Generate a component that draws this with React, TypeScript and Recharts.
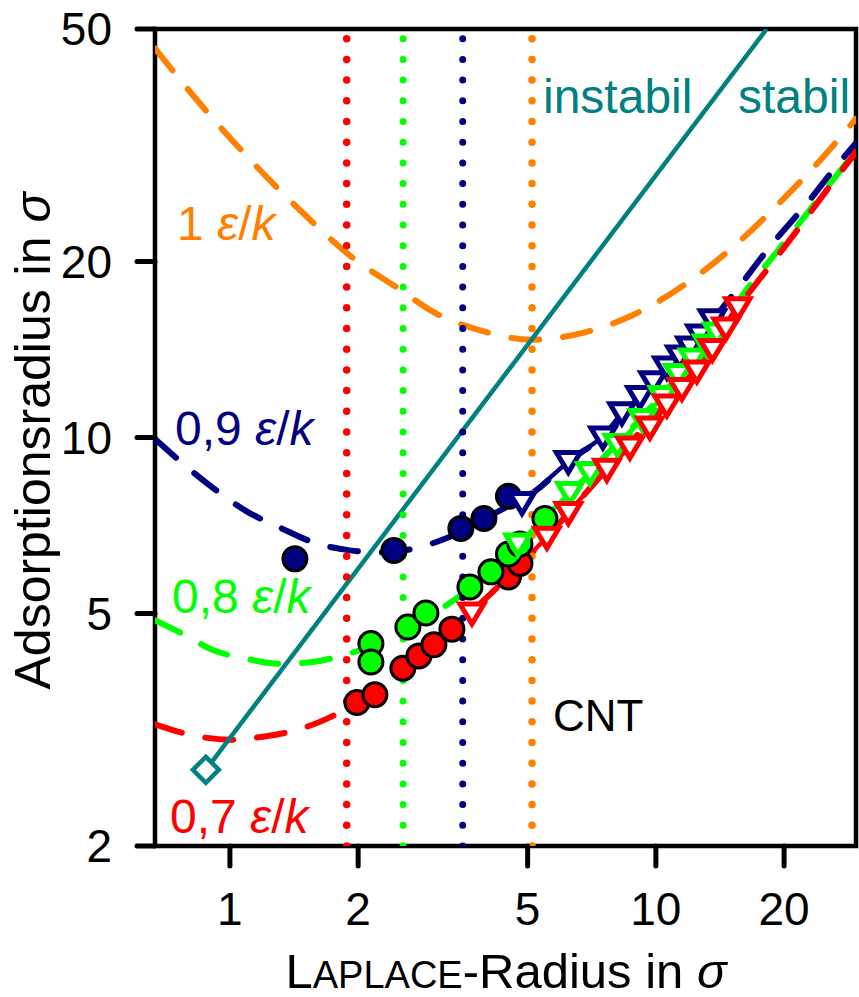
import React from 'react';
import { ComposedChart, Line, Scatter, XAxis, YAxis, ReferenceArea, Customized } from 'recharts';

const FONT = '"Liberation Sans", Arial, sans-serif';

const xTicks = [1, 2, 5, 10, 20];
const yTicks = [2, 5, 10, 20, 50];
const xDomain: [number, number] = [0.667, 29.5];
const yDomain: [number, number] = [2, 50];

const ORANGE = '#ff8000';
const NAVY = '#000080';
const GREEN = '#00ff00';
const RED = '#ff0000';
const TEAL = '#008080';

// dashed model curves (x, y)
const orangeCurve: [number, number][] = [
  [0.667, 46.3], [0.814, 38.7], [1.114, 29.9], [1.46, 24.5], [1.91, 20.5], [2.51, 17.9],
  [3.0, 16.4], [3.93, 15.2], [5.12, 14.7], [6.74, 15.1], [8.83, 16.2], [11.6, 18.2],
  [15.2, 21.2], [19.5, 25.2], [24.7, 30.2], [29.5, 35.1],
];
const navyCurve: [number, number][] = [
  [0.667, 9.94], [0.912, 8.2], [1.1, 7.46], [1.317, 7.0], [1.566, 6.62], [1.913, 6.41],
  [2.25, 6.36], [2.72, 6.46], [3.23, 6.73], [4.19, 7.42], [5.34, 8.21], [6.23, 9.1],
  [7.51, 10.02], [9.17, 11.75], [10.61, 13.2], [12.68, 14.98], [15.16, 17.54],
  [18.52, 21.2], [22.99, 25.5], [26.3, 28.9], [29.5, 31.9],
];
const greenCurve: [number, number][] = [
  [0.667, 4.87], [0.763, 4.64], [0.912, 4.33], [1.096, 4.18], [1.31, 4.1], [1.566, 4.13],
  [1.882, 4.26], [2.249, 4.45], [2.645, 4.74], [3.232, 5.17], [3.863, 5.7], [4.543, 6.32],
  [5.489, 7.25], [6.282, 7.99], [7.389, 9.1], [9.172, 10.74], [11.38, 12.82], [14.13, 15.28],
  [15.58, 17.06], [19.55, 21.1], [24.27, 25.8], [29.5, 31.0],
];
const redCurve: [number, number][] = [
  [0.667, 3.23], [0.841, 3.08], [1.0, 3.04], [1.208, 3.08], [1.436, 3.16], [1.717, 3.32],
  [1.987, 3.52], [2.375, 3.81], [2.793, 4.21], [3.284, 4.66], [3.863, 5.19], [4.543, 5.82],
  [5.489, 6.69], [6.632, 7.83], [8.233, 9.36], [10.22, 11.15], [12.68, 13.36], [15.58, 16.7],
  [18.22, 19.36], [20.64, 21.79], [25.2, 26.5], [29.5, 30.8],
];

// data markers
const navyCircles: [number, number][] = [[1.421, 6.2], [2.427, 6.41], [3.485, 6.99], [3.947, 7.27], [4.507, 7.93]];
const navyTriangles: [number, number][] = [
  [4.85, 7.74], [6.23, 9.1], [7.51, 10.02], [8.32, 11.02], [9.17, 11.75], [9.84, 12.46],
  [10.61, 13.2], [11.38, 13.79], [12.02, 14.29], [12.68, 14.98], [13.57, 15.9],
];
const greenCircles: [number, number][] = [
  [2.143, 4.44], [2.143, 4.13], [2.617, 4.74], [2.885, 5.01], [3.66, 5.55], [4.1, 5.89],
  [4.507, 6.32], [4.796, 6.57], [5.489, 7.27],
];
const greenTriangles: [number, number][] = [
  [4.744, 6.57], [6.28, 8.05], [7.0, 8.71], [8.12, 9.73], [9.3, 10.74], [10.36, 11.75],
  [11.26, 12.82], [12.21, 13.62], [13.17, 14.4], [13.91, 15.1],
];
const redCircles: [number, number][] = [
  [1.987, 3.52], [2.19, 3.63], [2.547, 4.03], [2.778, 4.23], [3.012, 4.42], [3.32, 4.7],
  [4.507, 5.77], [4.796, 6.09],
];
const redTriangles: [number, number][] = [
  [3.7, 5.01], [5.549, 6.75], [6.232, 7.44], [7.674, 8.82], [8.69, 9.63], [9.68, 10.42],
  [10.61, 11.37], [11.51, 12.13], [12.48, 13.0], [13.57, 14.15], [14.6, 15.4], [15.58, 16.67],
];

// stability boundary
const tealLine: [number, number][] = [[0.878, 2.7], [18.2, 50]];
const tealDiamond: [number, number][] = [[0.878, 2.7]];

// vertical dotted lines (critical radii)
const redVertical = 1.88;
const greenVertical = 2.55;
const navyVertical = 3.52;
const orangeVertical = 5.12;

const pts = (a: [number, number][]) => a.map(([x, y]) => ({ x, y }));
const vline = (x: number) => [{ x, y: yDomain[0] }, { x, y: yDomain[1] }];

const circleShape = (color: string) => (p: any) => (
  <circle cx={p.cx} cy={p.cy} r={12} fill={color} stroke="#000" strokeWidth={3} />
);
const triShape = (color: string) => (p: any) => (
  <path
    d={`M${p.cx - 12},${p.cy - 9}L${p.cx + 12},${p.cy - 9}L${p.cx},${p.cy + 11}Z`}
    fill="#fff"
    stroke={color}
    strokeWidth={5}
  />
);
const diamondShape = (p: any) => (
  <path
    d={`M${p.cx},${p.cy - 13}L${p.cx + 13},${p.cy}L${p.cx},${p.cy + 13}L${p.cx - 13},${p.cy}Z`}
    fill="#fff"
    stroke={TEAL}
    strokeWidth={4.5}
  />
);

const EpsK = ({ prefix }: { prefix: string }) => (
  <>
    {prefix}
    <tspan fontStyle="italic">ε</tspan>/<tspan fontStyle="italic">k</tspan>
  </>
);

const Annotations = () => (
  <g fontFamily={FONT}>
    <text x={177} y={240} fontSize={48} fill={ORANGE}><EpsK prefix="1 " /></text>
    <text x={175} y={445} fontSize={48} fill={NAVY}><EpsK prefix="0,9 " /></text>
    <text x={172} y={613} fontSize={48} fill={GREEN}><EpsK prefix="0,8 " /></text>
    <text x={170} y={833} fontSize={48} fill={RED}><EpsK prefix="0,7 " /></text>
    <text x={553} y={731} fontSize={44} fill="#000">CNT</text>
    <text x={543} y={113} fontSize={48} fill={TEAL}>instabil</text>
    <text x={738} y={113} fontSize={48} fill={TEAL}>stabil</text>
    <text x={506} y={988} fontSize={49} fill="#000" textAnchor="middle">
      L<tspan fontSize={38}>APLACE</tspan>-Radius in <tspan fontStyle="italic">σ</tspan>
    </text>
    <text transform="rotate(-90)" x={-441} y={50} fontSize={50} fill="#000" textAnchor="middle">
      Adsorptionsradius in <tspan fontStyle="italic">σ</tspan>
    </text>
  </g>
);

const dashProps = { strokeWidth: 6, strokeDasharray: '28 24', strokeLinecap: 'round' as const };

export default function App() {
  return (
    <div style={{ position: 'absolute', left: 0, top: 0, background: '#fff' }}>
      <ComposedChart width={859} height={997} margin={{ top: 29, right: 3, left: 0, bottom: 0 }}>
        <XAxis
          type="number"
          dataKey="x"
          scale="log"
          domain={xDomain}
          ticks={xTicks}
          allowDataOverflow
          height={151}
          tickSize={20}
          tickMargin={26}
          axisLine={false}
          tickLine={{ stroke: '#000', strokeWidth: 5, strokeLinecap: 'round' }}
          tick={{ fill: '#000', fontSize: 46, fontFamily: FONT }}
          interval={0}
        />
        <YAxis
          type="number"
          dataKey="y"
          scale="log"
          domain={yDomain}
          ticks={yTicks}
          allowDataOverflow
          width={155}
          tickSize={18}
          tickMargin={25}
          axisLine={false}
          tickLine={{ stroke: '#000', strokeWidth: 5, strokeLinecap: 'round' }}
          tick={{ fill: '#000', fontSize: 46, fontFamily: FONT }}
          interval={0}
        />
        <ReferenceArea x1={xDomain[0]} x2={xDomain[1]} y1={yDomain[0]} y2={yDomain[1]} fill="none" fillOpacity={0} stroke="#000" strokeWidth={4.5} />

        <Line data={pts(orangeCurve)} dataKey="y" type="monotone" stroke={ORANGE} dot={false} isAnimationActive={false} {...dashProps} />
        <Line data={pts(navyCurve)} dataKey="y" type="monotone" stroke={NAVY} dot={false} isAnimationActive={false} {...dashProps} />
        <Line data={pts(greenCurve)} dataKey="y" type="monotone" stroke={GREEN} dot={false} isAnimationActive={false} {...dashProps} />
        <Line data={pts(redCurve)} dataKey="y" type="monotone" stroke={RED} dot={false} isAnimationActive={false} {...dashProps} />

        <Line data={pts(navyTriangles)} dataKey="y" type="linear" stroke={NAVY} strokeWidth={4.5} dot={false} isAnimationActive={false} />
        <Line data={pts(greenTriangles)} dataKey="y" type="linear" stroke={GREEN} strokeWidth={4.5} dot={false} isAnimationActive={false} />
        <Line data={pts(redTriangles)} dataKey="y" type="linear" stroke={RED} strokeWidth={4.5} dot={false} isAnimationActive={false} />

        <Scatter data={pts(navyCircles)} dataKey="y" shape={circleShape(NAVY)} isAnimationActive={false} />
        <Scatter data={pts(redCircles)} dataKey="y" shape={circleShape(RED)} isAnimationActive={false} />
        <Scatter data={pts(greenCircles)} dataKey="y" shape={circleShape(GREEN)} isAnimationActive={false} />
        <Scatter data={pts(navyTriangles)} dataKey="y" shape={triShape(NAVY)} isAnimationActive={false} />
        <Scatter data={pts(greenTriangles)} dataKey="y" shape={triShape(GREEN)} isAnimationActive={false} />
        <Scatter data={pts(redTriangles)} dataKey="y" shape={triShape(RED)} isAnimationActive={false} />

        <Line data={pts(tealLine)} dataKey="y" type="linear" stroke={TEAL} strokeWidth={4.5} dot={false} isAnimationActive={false} />
        <Scatter data={pts(tealDiamond)} dataKey="y" shape={diamondShape} isAnimationActive={false} />

        <Line data={vline(redVertical)} dataKey="y" type="linear" stroke={RED} strokeWidth={7.5} strokeDasharray="0 20.7" strokeLinecap="round" dot={false} isAnimationActive={false} />
        <Line data={vline(greenVertical)} dataKey="y" type="linear" stroke={GREEN} strokeWidth={7} strokeDasharray="0 20.7" strokeLinecap="round" dot={false} isAnimationActive={false} />
        <Line data={vline(navyVertical)} dataKey="y" type="linear" stroke={NAVY} strokeWidth={7} strokeDasharray="0 20.7" strokeLinecap="round" dot={false} isAnimationActive={false} />
        <Line data={vline(orangeVertical)} dataKey="y" type="linear" stroke={ORANGE} strokeWidth={7.5} strokeDasharray="0 20.7" strokeLinecap="round" dot={false} isAnimationActive={false} />

        <Customized component={<Annotations />} />
      </ComposedChart>
    </div>
  );
}
